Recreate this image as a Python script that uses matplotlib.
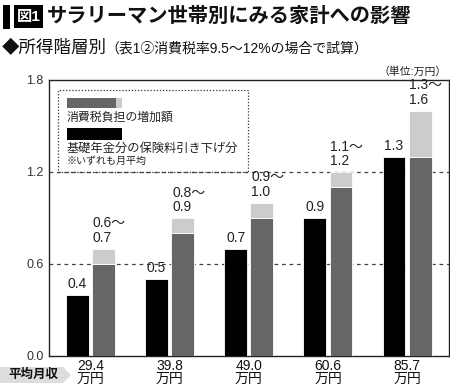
import numpy as np
import matplotlib.pyplot as plt
from matplotlib.patches import Rectangle, Polygon

plt.rcParams['font.family'] = ['Liberation Sans', 'Noto Sans CJK JP', 'DejaVu Sans']

# 平均月収 (万円)
income = ['29.4', '39.8', '49.0', '60.6', '85.7']
pension_cut = [0.4, 0.5, 0.7, 0.9, 1.3]      # 基礎年金分の保険料引き下げ分
tax_low = [0.6, 0.8, 0.9, 1.1, 1.3]          # 消費税負担の増加額 (下限)
tax_high = [0.7, 0.9, 1.0, 1.2, 1.6]         # 消費税負担の増加額 (上限)
tax_labels = ['0.6〜\n0.7', '0.8〜\n0.9', '0.9〜\n1.0', '1.1〜\n1.2', '1.3〜\n1.6']
yticks = [0.0, 0.6, 1.2, 1.8]

fig = plt.figure(figsize=(4.5, 3.87), dpi=100)
ax = fig.add_axes([49 / 450, 1 - 356 / 387, 400 / 450, 276 / 387])

x = np.arange(len(income))
w = 0.29
off = 0.165
ax.bar(x - off, pension_cut, w, color='black', edgecolor='white', linewidth=0.6, zorder=3)
ax.bar(x + off, tax_low, w, color='#666666', edgecolor='white', linewidth=0.6, zorder=3)
ax.bar(x + off, np.array(tax_high) - np.array(tax_low), w, bottom=tax_low,
       color='#cccccc', edgecolor='white', linewidth=0.6, zorder=3)

for i in range(len(income)):
    ax.text(x[i] - off, pension_cut[i] + 0.025, f'{pension_cut[i]:.1f}', ha='center', va='bottom',
            fontsize=10, color='#222222')
    ax.text(x[i] + off - w / 2 + 0.01, tax_high[i] + 0.025, tax_labels[i], ha='left', va='bottom',
            fontsize=10, color='#222222', linespacing=1.05, multialignment='left')

for yv in [0.6, 1.2]:
    ax.axhline(yv, color='#444444', lw=0.9, ls=(0, (3, 3)), zorder=1)

ax.set_xlim(-0.525, 4.53)
ax.set_ylim(0, 1.8)
ax.set_yticks(yticks)
ax.set_yticklabels([f'{v:.1f}' for v in yticks], fontsize=9, color='#333333')
ax.tick_params(axis='y', length=0, pad=4)
ax.set_xticks(x)
ax.set_xticklabels([f'{s}\n万円' for s in income], fontsize=10, color='#111111', linespacing=0.9)
ax.tick_params(axis='x', length=0, pad=2)
for s in ax.spines.values():
    s.set_color('#222222')
    s.set_linewidth(1.0)

# legend box
ax.add_patch(Rectangle((0.0225, 0.667), 0.475, 0.297, transform=ax.transAxes, fill=False,
                       ls=(0, (1, 1.5)), lw=0.9, edgecolor='#333333', zorder=4))
ax.add_patch(Rectangle((0.045, 0.899), 0.1225, 0.036, transform=ax.transAxes,
                       facecolor='#666666', edgecolor='none', zorder=5))
ax.add_patch(Rectangle((0.1675, 0.899), 0.015, 0.036, transform=ax.transAxes,
                       facecolor='#cccccc', edgecolor='none', zorder=5))
ax.text(0.045, 0.862, '消費税負担の増加額', transform=ax.transAxes, fontsize=8.6,
        va='center', ha='left', color='#222222')
ax.add_patch(Rectangle((0.045, 0.784), 0.1375, 0.042, transform=ax.transAxes,
                       facecolor='black', edgecolor='none', zorder=5))
ax.text(0.045, 0.751, '基礎年金分の保険料引き下げ分', transform=ax.transAxes, fontsize=8.8,
        va='center', ha='left', color='#222222')
ax.text(0.045, 0.707, '※いずれも月平均', transform=ax.transAxes, fontsize=7.2,
        va='center', ha='left', color='#222222')

# title
fig.patches.append(Rectangle((3 / 450, 1 - 29 / 387), 7 / 450, 24 / 387, transform=fig.transFigure,
                             facecolor='black', edgecolor='none'))
fig.patches.append(Rectangle((14 / 450, 1 - 28 / 387), 29 / 450, 23 / 387, transform=fig.transFigure,
                             facecolor='black', edgecolor='none'))
fig.text(28.5 / 450, 1 - 16.5 / 387, '図1', color='white', fontsize=11, fontweight='bold',
         ha='center', va='center')
fig.text(47 / 450, 1 - 16.5 / 387, 'サラリーマン世帯別にみる家計への影響', fontsize=14.6,
         fontweight='bold', ha='left', va='center', color='#111111')
fig.text(2 / 450, 1 - 48 / 387, '◆所得階層別', fontsize=12.6, ha='left', va='center', color='#111111')
fig.text(105 / 450, 1 - 49 / 387, '（表1②消費税率9.5〜12%の場合で試算）', fontsize=10,
         ha='left', va='center', color='#111111')
fig.text(447 / 450, 1 - 72 / 387, '（単位:万円）', fontsize=7.8, ha='right', va='center',
         color='#222222')

# 平均月収 tag
fig.patches.append(Polygon([(0, 1 - 367 / 387), (63 / 450, 1 - 367 / 387), (71 / 450, 1 - 375 / 387),
                            (63 / 450, 1 - 383 / 387), (0, 1 - 383 / 387)], closed=True,
                           transform=fig.transFigure, facecolor='#dddddd', edgecolor='none'))
fig.text(33 / 450, 1 - 375 / 387, '平均月収', fontsize=9, fontweight='bold', ha='center',
         va='center', color='#111111')

fig.savefig('out.png', dpi=100)
